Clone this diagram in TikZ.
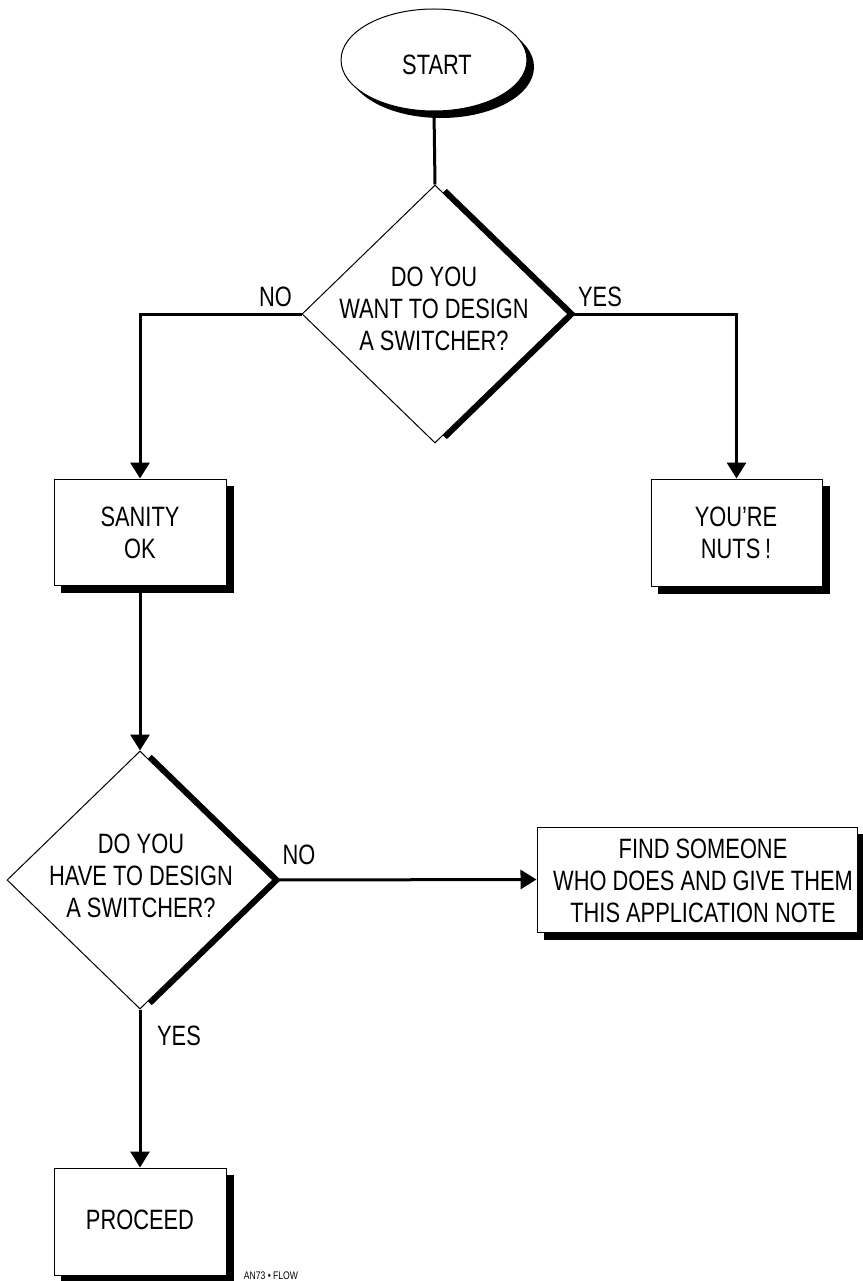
\documentclass[tikz,border=0pt]{standalone}
\usepackage{fontspec}
\setmainfont{Liberation Sans}[FakeStretch=0.78]
\usetikzlibrary{shapes.geometric,arrows.meta,calc,backgrounds}
\begin{document}
\begin{tikzpicture}[x=1pt,y=-1pt,
  txt/.style={font=\fontsize{28}{32}\selectfont, align=center, inner sep=0pt},
  small/.style={font=\fontsize{11}{13}\selectfont, inner sep=0pt},
  boxshape/.style={draw, line width=1pt, fill=white, rectangle, inner sep=0pt},
  dia/.style={draw, line width=1pt, fill=white, diamond, inner sep=0pt, minimum width=266pt, minimum height=258pt},
  conn/.style={line width=3pt},
  arr/.style={conn, -{Triangle[width=19pt,length=16pt]}},
  diashadow/.style={line width=6pt, line join=miter}
]
\useasboundingbox (0,0) rectangle (862,1281);

% shapes
\node[draw, line width=1pt, fill=white, ellipse, inner sep=0pt, minimum width=186pt, minimum height=102pt] (start) at (434,60) {};
\node[dia] (d1) at (435,314) {};
\node[boxshape, minimum width=172pt, minimum height=106pt] (sanity) at (140,532) {};
\node[boxshape, minimum width=171pt, minimum height=107pt] (nuts) at (736.5,532.5) {};
\node[dia] (d2) at (140,880) {};
\node[boxshape, minimum width=320pt, minimum height=105pt] (find) at (697,879.5) {};
\node[boxshape, minimum width=172pt, minimum height=107pt] (proceed) at (140,1221.5) {};

% shadows
\begin{pgfonlayer}{background}
  \fill (441,67) ellipse [x radius=93pt, y radius=51pt];
  \draw[diashadow] ($(d1.north)!0.05!(d1.east)+(3,0)$) -- ($(d1.east)+(3,0)$) -- ($(d1.south)!0.05!(d1.east)+(3,0)$);
  \draw[diashadow] ($(d2.north)!0.05!(d2.east)+(3,0)$) -- ($(d2.east)+(3,0)$) -- ($(d2.south)!0.05!(d2.east)+(3,0)$);
  \fill ($(sanity.north west)+(7,7)$) rectangle ($(sanity.south east)+(7,7)$);
  \fill ($(nuts.north west)+(7,7)$) rectangle ($(nuts.south east)+(7,7)$);
  \fill ($(find.north west)+(7,7)$) rectangle ($(find.south east)+(5,7)$);
  \fill ($(proceed.north west)+(7,7)$) rectangle ($(proceed.south east)+(7,6)$);
\end{pgfonlayer}

% texts
\node[txt] (startt) at (437,65) {START};
\node[txt] (d1t) at (434,309) {DO YOU\\WANT TO DESIGN\\A SWITCHER?};
\node[txt] (sanityt) at (140,533) {SANITY\\OK};
\node[txt] (nutst) at (736,533) {YOU’RE\\NUTS\,!};
\node[txt] (d2t) at (141,876) {DO YOU\\HAVE TO DESIGN\\A SWITCHER?};
\node[txt] (findt) at (703,881) {FIND SOMEONE\\WHO DOES AND GIVE THEM\\THIS APPLICATION NOTE};
\node[txt] (proceedt) at (140,1220) {PROCEED};

% labels
\node[txt] (no1) at (275.5,297) {NO};
\node[txt] (yes1) at (600,297) {YES};
\node[txt] (no2) at (299,855) {NO};
\node[txt] (yes2) at (179,1036) {YES};
\node[small] (code) at (271,1276) {AN73 • FLOW};

% connectors
\draw[conn] (start.south) -- (d1.north);
\draw[arr] (d1.west) -| (sanity.north);
\draw[arr] (d1.east) -| (nuts.north);
\draw[arr] (sanity.south) -- (d2.north);
\draw[arr] (d2.east) -- (find.west);
\draw[arr] (d2.south) -- (proceed.north);
\end{tikzpicture}
\end{document}
